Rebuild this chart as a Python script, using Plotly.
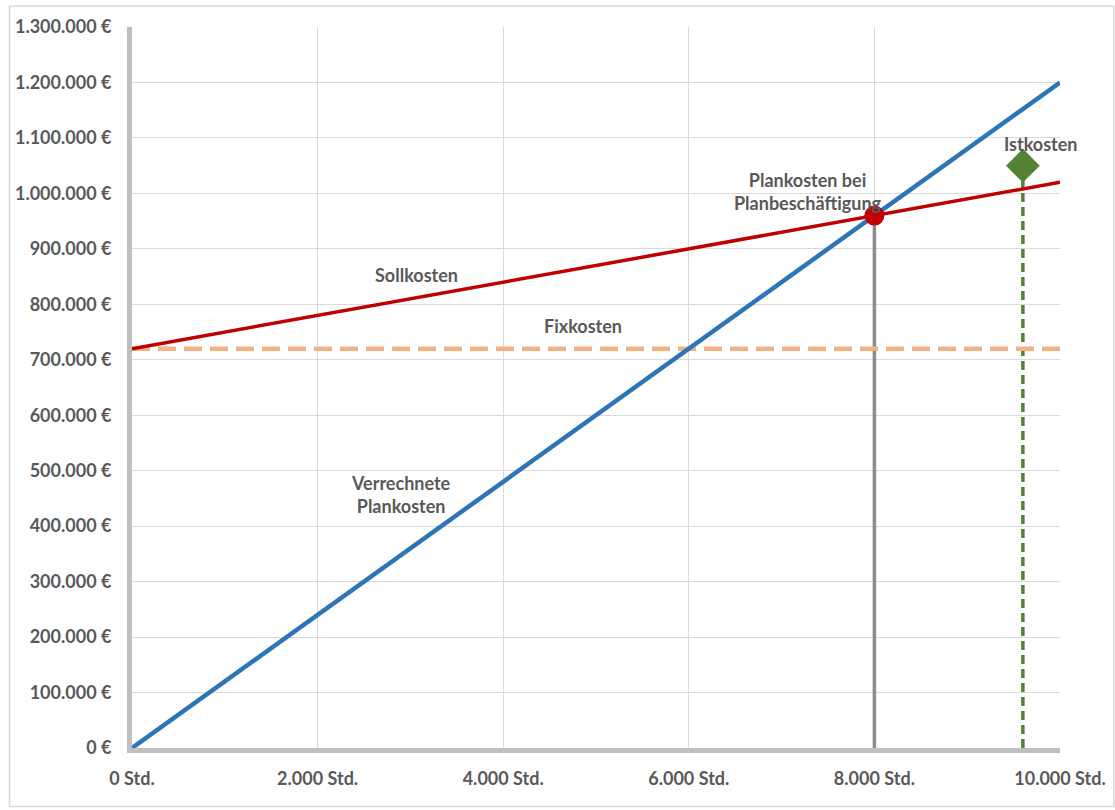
import plotly.graph_objects as go

# Hours (Beschäftigung) and cost parameters
hours = [0, 10000]
fixkosten = 720000
plan_hours = 8000
plankosten = 960000
ist_hours = 9600
istkosten = 1050000

verrechnete = [0, 1200000]
sollkosten = [720000, 1020000]
fix_line = [fixkosten, fixkosten]

x_ticks = [0, 2000, 4000, 6000, 8000, 10000]
x_labels = ["0 Std.", "2.000 Std.", "4.000 Std.", "6.000 Std.", "8.000 Std.", "10.000 Std."]
y_ticks = [i * 100000 for i in range(14)]
y_labels = ["0 €", "100.000 €", "200.000 €", "300.000 €", "400.000 €", "500.000 €",
            "600.000 €", "700.000 €", "800.000 €", "900.000 €", "1.000.000 €",
            "1.100.000 €", "1.200.000 €", "1.300.000 €"]

FONT = "Lato"
TXT = "#595959"
FS = 18

fig = go.Figure()

# Vertical drop lines
fig.add_trace(go.Scatter(x=[plan_hours, plan_hours], y=[0, plankosten], mode="lines",
                         line=dict(color="#8c8c8c", width=3.5), hoverinfo="skip"))
fig.add_trace(go.Scatter(x=[ist_hours, ist_hours], y=[0, istkosten], mode="lines",
                         line=dict(color="#548235", width=3.5, dash="9px,5px"), hoverinfo="skip"))

# Fixed costs
fig.add_trace(go.Scatter(x=hours, y=fix_line, mode="lines",
                         line=dict(color="#f4b183", width=4.5, dash="18px,8px")))
# Target costs
fig.add_trace(go.Scatter(x=hours, y=sollkosten, mode="lines",
                         line=dict(color="#c00000", width=3.5)))
# Applied planned costs
fig.add_trace(go.Scatter(x=hours, y=verrechnete, mode="lines",
                         line=dict(color="#2e75b6", width=4.5)))

# Planned cost point and actual cost point
fig.add_trace(go.Scatter(x=[plan_hours], y=[plankosten], mode="markers",
                         marker=dict(color="#c00000", size=20, symbol="circle")))
fig.add_trace(go.Scatter(x=[ist_hours], y=[istkosten], mode="markers",
                         marker=dict(color="#548235", size=26, symbol="diamond")))

ann_font = dict(family=FONT, size=FS, color=TXT)
labels = [
    (3070, 853000, "Sollkosten"),
    (4860, 761000, "Fixkosten"),
    (2900, 457000, "Verrechnete<br>Plankosten"),
    (7280, 1003000, "Plankosten bei<br>Planbeschäftigung"),
    (9790, 1089000, "Istkosten"),
]
for x, y, t in labels:
    fig.add_annotation(x=x, y=y, text="<b>" + t + "</b>", showarrow=False,
                       font=ann_font, align="center", xanchor="center", yanchor="middle")

fig.update_layout(
    width=1115, height=810,
    margin=dict(l=132, r=55, t=27, b=62, autoexpand=False),
    paper_bgcolor="white", plot_bgcolor="white",
    showlegend=False,
    font=dict(family=FONT, color=TXT),
    shapes=[dict(type="rect", xref="paper", yref="paper",
                 x0=-0.132, x1=1.058, y0=-0.081, y1=1.029,
                 line=dict(color="#d9d9d9", width=1.5))],
)
fig.update_xaxes(range=[0, 10000], tickvals=x_ticks, ticktext=["<b>" + s + "</b>" for s in x_labels],
                 tickfont=dict(family=FONT, size=FS, color=TXT),
                 showgrid=True, gridcolor="#d9d9d9", gridwidth=1,
                 showline=True, linecolor="#bfbfbf", linewidth=5, automargin=False,
                 zeroline=False, ticks="", ticklabelstandoff=10)
fig.update_yaxes(range=[0, 1300000], tickvals=y_ticks, ticktext=["<b>" + s + "</b>" for s in y_labels],
                 tickfont=dict(family=FONT, size=FS, color=TXT),
                 showgrid=True, gridcolor="#d9d9d9", gridwidth=1,
                 showline=True, linecolor="#bfbfbf", linewidth=5, automargin=False,
                 zeroline=False, ticks="", ticklabelstandoff=12)

fig.write_html("out.html")
